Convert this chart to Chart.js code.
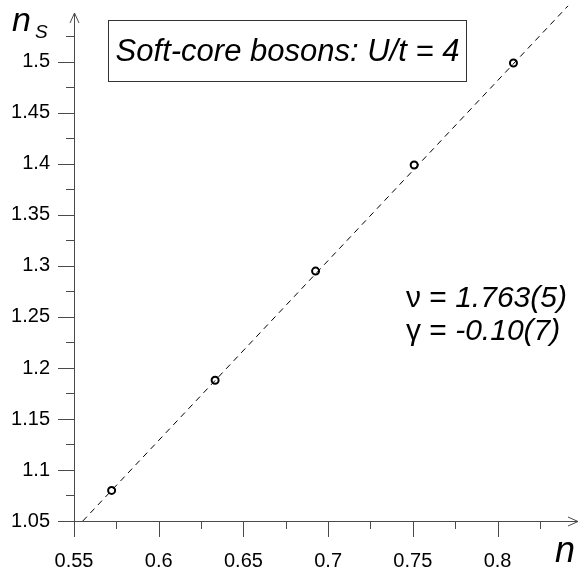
<!DOCTYPE html>
<html lang="en">
<head>
    <meta charset="UTF-8">
    <title>Soft-core bosons</title>
    <script src="https://cdn.jsdelivr.net/npm/chart.js"></script>
    <style>
        body {
            margin: 0;
            background: #ffffff;
        }
        #chart {
            display: block;
        }
    </style>
</head>
<body>
    <canvas id="chart" width="584" height="567"></canvas>

    <script>
        // data
        const nValues = [0.5722, 0.6333, 0.6926, 0.7508, 0.8094];
        const nsValues = [1.080, 1.188, 1.295, 1.399, 1.499];
        // dashed fit line end points
        const fitN = [0.5552, 0.8416];
        const fitNs = [1.05, 1.555];
        // tick labels
        const xTickLabels = ['0.55', '0.6', '0.65', '0.7', '0.75', '0.8'];
        const yTickLabels = ['1.05', '1.1', '1.15', '1.2', '1.25', '1.3', '1.35', '1.4', '1.45', '1.5'];

        const FONT = '"Liberation Sans", Arial, sans-serif';
        const AXIS = '#4a4a4a';

        // axes, ticks, arrows and texts
        const decor = {
            id: 'decor',
            afterDraw(chart) {
                const ctx = chart.ctx;
                const xs = chart.scales.x, ys = chart.scales.y;
                const x0 = xs.getPixelForValue(xs.min), x1 = xs.getPixelForValue(xs.max);
                const y0 = ys.getPixelForValue(ys.min), y1 = ys.getPixelForValue(ys.max);
                ctx.save();
                ctx.strokeStyle = AXIS;
                ctx.lineWidth = 1;
                ctx.beginPath();
                ctx.moveTo(x0 - 16, Math.round(y0) + 0.5);
                ctx.lineTo(x1, Math.round(y0) + 0.5);
                ctx.moveTo(Math.round(x0) + 0.5, y0 + 16);
                ctx.lineTo(Math.round(x0) + 0.5, y1);
                // arrow heads
                ctx.moveTo(x1 - 10, y0 - 4);
                ctx.lineTo(x1, Math.round(y0) + 0.5);
                ctx.lineTo(x1 - 10, y0 + 5);
                ctx.moveTo(x0 - 4, y1 + 10);
                ctx.lineTo(Math.round(x0) + 0.5, y1);
                ctx.lineTo(x0 + 5, y1 + 10);
                // x ticks
                xTickLabels.forEach(s => {
                    const v = +s;
                    const px = Math.round(xs.getPixelForValue(v)) + 0.5;
                    ctx.moveTo(px, y0);
                    ctx.lineTo(px, y0 + 16);
                    const pm = Math.round(xs.getPixelForValue(v + 0.025)) + 0.5;
                    ctx.moveTo(pm, y0);
                    ctx.lineTo(pm, y0 + 8);
                });
                // y ticks
                yTickLabels.forEach(s => {
                    const v = +s;
                    const py = Math.round(ys.getPixelForValue(v)) + 0.5;
                    ctx.moveTo(x0, py);
                    ctx.lineTo(x0 - 16, py);
                    const pm = Math.round(ys.getPixelForValue(v + 0.025)) + 0.5;
                    ctx.moveTo(x0, pm);
                    ctx.lineTo(x0 - 8, pm);
                });
                ctx.stroke();

                // title box
                ctx.strokeStyle = '#333333';
                ctx.strokeRect(108.5, 20.5, 358, 61);
                ctx.fillStyle = '#000000';
                ctx.textBaseline = 'alphabetic';
                ctx.textAlign = 'center';
                ctx.font = 'italic 31px ' + FONT;
                ctx.fillText('Soft-core bosons: U/t = 4', 287.5, 61);

                // exponents
                ctx.textAlign = 'left';
                ctx.font = '30px ' + FONT;
                let w = ctx.measureText('\u03bd = ').width;
                ctx.fillText('\u03bd = ', 406, 307);
                ctx.font = 'italic 30px ' + FONT;
                ctx.fillText('1.763(5)', 406 + w, 307);
                ctx.font = '30px ' + FONT;
                w = ctx.measureText('\u03b3 = ').width;
                ctx.fillText('\u03b3 = ', 406, 340);
                ctx.font = 'italic 30px ' + FONT;
                ctx.fillText('-0.10(7)', 406 + w, 340);

                // axis titles
                ctx.font = 'italic 34px ' + FONT;
                ctx.fillText('n', 12, 31);
                ctx.font = 'italic 19px ' + FONT;
                ctx.fillText('S', 35, 38);
                ctx.font = 'italic 36px ' + FONT;
                ctx.fillText('n', 555, 562);
                ctx.restore();
            }
        };

        new Chart(document.getElementById('chart'), {
            type: 'scatter',
            data: {
                datasets: [
                    {
                        type: 'line',
                        data: fitN.map((v, i) => ({ x: v, y: fitNs[i] })),
                        borderColor: '#000000',
                        borderWidth: 1,
                        borderDash: [6, 5],
                        pointRadius: 0,
                        fill: false,
                        clip: false
                    },
                    {
                        data: nValues.map((v, i) => ({ x: v, y: nsValues[i] })),
                        pointRadius: 3.5,
                        pointBorderWidth: 2,
                        pointBorderColor: '#000000',
                        pointBackgroundColor: '#ffffff'
                    },
                    {
                        data: nValues.map((v, i) => ({ x: v, y: nsValues[i] })),
                        pointRadius: 1.3,
                        pointBorderWidth: 0,
                        pointBackgroundColor: '#000000'
                    }
                ]
            },
            options: {
                responsive: false,
                animation: false,
                layout: { padding: { top: 13, right: 3, left: 0, bottom: 0 } },
                plugins: {
                    legend: { display: false },
                    tooltip: { enabled: false }
                },
                scales: {
                    x: {
                        type: 'linear',
                        min: 0.55,
                        max: 0.8475,
                        afterFit(scale) {
                            scale.height = 46;
                            scale.paddingLeft = 0;
                            scale.paddingRight = 0;
                        },
                        afterBuildTicks(scale) {
                            scale.ticks = xTickLabels.map(s => ({ value: +s }));
                        },
                        ticks: {
                            padding: 20,
                            color: '#000000',
                            font: { family: FONT, size: 20 },
                            maxRotation: 0,
                            autoSkip: false,
                            callback: v => String(+v.toFixed(3))
                        },
                        grid: { display: false },
                        border: { display: false }
                    },
                    y: {
                        type: 'linear',
                        min: 1.05,
                        max: 1.548,
                        afterFit(scale) {
                            scale.width = 74;
                            scale.paddingTop = 0;
                            scale.paddingBottom = 0;
                        },
                        afterBuildTicks(scale) {
                            scale.ticks = yTickLabels.map(s => ({ value: +s }));
                        },
                        ticks: {
                            padding: 16,
                            color: '#000000',
                            font: { family: FONT, size: 20 },
                            autoSkip: false,
                            callback: v => String(+v.toFixed(3))
                        },
                        grid: { display: false },
                        border: { display: false }
                    }
                }
            },
            plugins: [decor]
        });
    </script>
</body>
</html>
